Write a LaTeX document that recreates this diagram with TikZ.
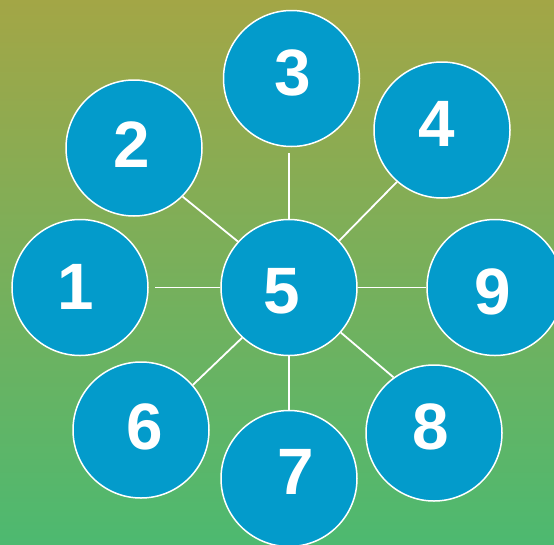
\documentclass[tikz,border=0pt]{standalone}
\usepackage{fontspec}
\setmainfont{Liberation Sans}
\definecolor{bgtop}{RGB}{163,166,70}
\definecolor{bgbot}{RGB}{77,185,112}
\definecolor{bubble}{RGB}{3,155,203}
\tikzset{
  bub/.style={circle, fill=bubble, draw=white, line width=1.5pt, minimum size=136pt, inner sep=0pt},
  num/.style={inner sep=0pt, text=white, font=\bfseries\fontsize{65.6}{70}\selectfont},
  link/.style={draw=white, line width=1.8pt}
}
\begin{document}
\begin{tikzpicture}[x=1pt,y=-1pt]
\shade[top color=bgtop, bottom color=bgbot] (0,0) rectangle (554,544);
\useasboundingbox (0,0) rectangle (554,544);
\begin{scope}
\clip (0,0) rectangle (554,544);
\node[bub] (c1) at (80,287.5) {};
\node[bub] (c2) at (134,148) {};
\node[bub] (c3) at (291.5,78.5) {};
\node[bub] (c4) at (442,130) {};
\node[bub] (c5) at (289,287.5) {};
\node[bub] (c9) at (495,287.5) {};
\node[bub] (c6) at (141,430) {};
\node[bub] (c7) at (289,478.5) {};
\node[bub] (c8) at (434,433) {};
\draw[link, shorten >=6pt] (c5.west) -- (c1.east);
\draw[link] (c5.138.8) -- (c2.-45.6);
\draw[link, shorten >=5.5pt] (c5.north) -- (c5.north |- c3.south);
\draw[link] (c5.43.6) -- (c4.229);
\draw[link] (c5.east) -- (c9.west);
\draw[link] (c5.227.7) -- (c6.41.5);
\draw[link] (c5.south) -- (c5.south |- c7.north);
\draw[link] (c5.-41.2) -- (c8.126.2);
\node[num] (t1) at (75.5,286.5) {1};
\node[num] (t2) at (132,145) {2};
\node[num] (t3) at (292.4,72.6) {3};
\node[num] (t4) at (437,124) {4};
\node[num] (t5) at (281.6,291) {5};
\node[num] (t9) at (492.5,291.5) {9};
\node[num] (t6) at (145,427) {6};
\node[num] (t7) at (295.5,472) {7};
\node[num] (t8) at (431,427) {8};
\end{scope}
\end{tikzpicture}
\end{document}
